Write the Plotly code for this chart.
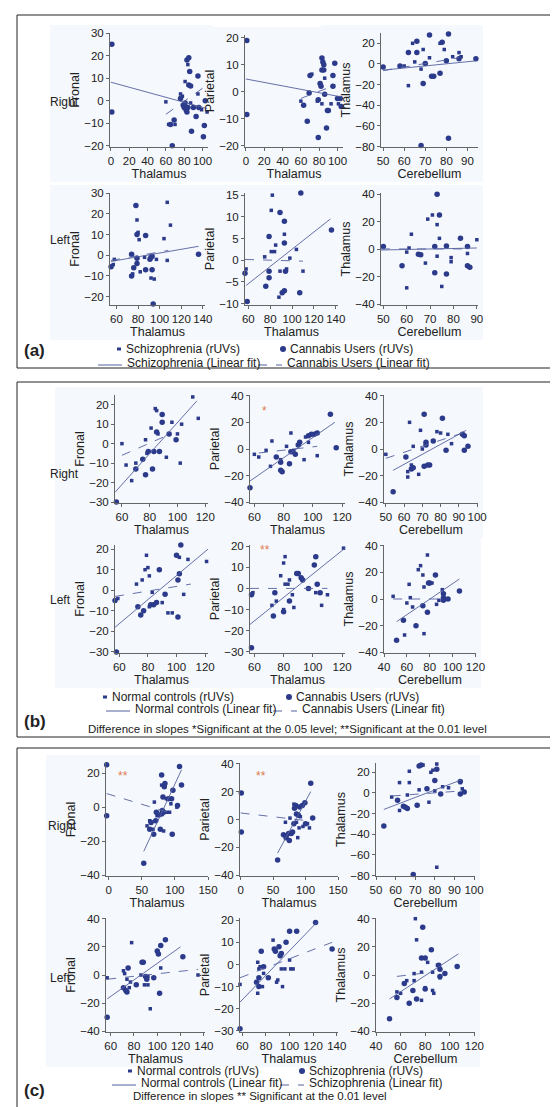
import plotly.graph_objects as go

W, H = 558, 1107
DOT = "#2b3a8a"
FIT = "#5561a0"

# ---- panel (a): Schizophrenia (squares) vs Cannabis users (circles) ----
a1_sq = [(60,-0.5),(76,3),(78,2),(81,8.5),(84,16),(63,-10.5),(70,-10.5),(87,-1),(95,3),(99,-4),(105,-5)]
a1_ci = [(1,25),(1,-5),(83,18),(85,19),(86,13),(85,7),(87,6.5),(95,11),(88,-13.5),(96,-3),(101,-16),(102,-11),(67,-20),
         (65,-10.5),(69,-8.5),(80,-3),(82,-4),(83,-5),(90,-3),(93,-7),(84,-3),(79,-2),(81,-1),(103,0),(76,1)]
a1_fit = [(0,8.2),(105,-3.5)]
a1_fit2 = [(60,-6),(100,5.5)]

a2_sq = [(60,-3.5),(72,6.5),(78,-3.5),(83,-4.5),(86,5),(93,-4.5),(101,-4.5)]
a2_ci = [(1,19),(1,-8.5),(83,12.5),(84,11),(85,10),(83,8),(85,8),(97,10.5),(70,6),(95,6),(81,3),(82,2),(69,-0.5),(79,-3),
         (63,-5),(67,-11),(89,-7),(90,-7),(88,-13.5),(79,-17),(86,-1),(100,-2.5),(103,-2.5),(104,-5.5),(95,2)]
a2_fit = [(0,4.7),(105,-2)]
a2_fit2 = [(60,-2.5),(98,2.5)]

a3_sq = [(62,-21),(64,20),(68,-5),(65,2),(69,14),(72,6),(77,20),(79,14),(83,7),(86,11),(87,7),(60,-2)]
a3_ci = [(50,-3),(58,-2),(62,11),(66,22),(66,11),(70,0.5),(73,-12),(74,-12),(77,-9),(78,21),(81,29),(72,28),(80,3),
         (86,5),(94,5),(68,-79),(81,-72),(69,-19)]
a3_fit = [(50,-6),(94,3)]
a3_fit2 = [(50,-6.5),(86,6)]

a4_sq = [(79,17),(80,11),(81,7.5),(104,8),(107,25.5),(110,14.5),(57,-4.5),(58,-2),(82,-8),(86,-1),(92,-11),(95,-11.5),
         (97,-2),(107,-2.5),(75,-9)]
a4_ci = [(78,24),(87,9.5),(79,10),(74,0.5),(92,-1),(93,-0.5),(91,-2),(93,-7),(87,-7),(79,-1.5),(76,-6),(74,-10),(136,0.5),
         (94,-23.5),(55,-5.5),(79,-4)]
a4_fit = [(55,-3),(136,4.3)]
a4_fit2 = [(55,-2.5),(108,2.3)]

a5_sq = [(81,11.5),(82,15),(81,2),(84,2),(85,3.5),(93,6),(89,-2.5),(95,-2),(98,0.5),(104,2.5),(110,-2.5),(58,-2),(75,0.8),
         (88,-8.5),(80,-10.5)]
a5_ci = [(59,-9.5),(79,5.5),(89,11),(93,9),(93,4),(108,15.5),(136,7),(79,-4),(79,-2.5),(76,-6),(96,-10.5),(91,-7.5),
         (93,-7),(107,-7.5),(94,-2.5),(57,-3)]
a5_fit = [(58,-5.8),(135,9.5)]
a5_fit2 = [(57,0.2),(110,-0.2)]

a6_sq = [(60,-28),(62,11),(61,1),(60,-2),(68,-10),(69,22),(71,25),(73,18),(74,8),(73,-5),(75,-27),(79,-6),(79,-9),(86,-3),(90,7)]
a6_ci = [(73,40),(74,25),(72,2),(72,-17),(77,-18),(83,8),(77,2.5),(86,2),(86,-12),(87,-13),(66,-4),(65,-3.5),(58,-12),(50,2)]
a6_fit = [(49,-0.5),(90,1)]
a6_fit2 = [(49,0.3),(86,0.3)]

# ---- panel (b): Normal controls (squares) vs Cannabis users (circles) ----
b1_sq = [(60,0),(63,-11),(67,-19),(70,-10),(77,2),(81,8),(84,18),(85,17),(92,-7),(96,11),(103,10),(102,-10),(100,5),
         (111,24),(115,13),(78,-5),(86,5)]
b1_ci = [(56,-30),(70,-13),(77,-16),(82,-13),(83,-4),(85,6),(89,11),(89,15),(94,5),(99,2),(87,-4),(75,-8),(79,-4)]
b1_fit = [(55,-25),(114,22)]
b1_fit2 = [(60,-6),(95,5)]

b2_sq = [(60,-4),(63,-6),(68,-1),(71,-13),(72,6),(82,2),(85,12),(87,-1),(94,-8),(95,9),(97,5),(103,-5),(78,-8)]
b2_ci = [(57,-29),(78,-16),(79,-17),(78,-10),(84,-11),(85,-2),(88,-4),(90,3),(91,5),(97,10),(99,11),(101,11),(103,12),
         (112,26),(116,1),(75,-6)]
b2_fit = [(57,-24),(115,20)]
b2_fit2 = [(63,-3),(103,2)]

b3_sq = [(50,-4),(62,-17),(62,-21),(63,20),(65,2),(69,14),(70,0),(68,-19),(78,13),(80,12),(84,11),(86,4),(64,-12)]
b3_ci = [(54,-32),(61,-6),(64,-15),(65,-14),(72,3),(72,5),(71,-13),(73,-12),(74,-12),(76,6),(81,23),(83,-1),(92,11),
         (93,-1),(95,2),(93,10),(71,26)]
b3_fit = [(54,-16),(94,14)]
b3_fit2 = [(50,-7),(92,12)]

b4_sq = [(59,-4),(72,3),(76,5),(78,10),(79,17),(80,11),(81,7),(81,-8),(83,-1),(90,-6),(94,-11),(97,-11),(102,16),(105,-2),
         (108,15),(121,14)]
b4_ci = [(58,-30),(57,-5),(73,-8),(75,-12),(77,-10),(82,-7),(84,-7),(86,-6),(88,10),(92,-2),(101,-13),(100,17),(102,8),
         (101,5),(103,22)]
b4_fit = [(57,-18),(122,20)]
b4_fit2 = [(57,-3),(110,3)]

b5_sq = [(59,-2),(72,-8),(75,-6),(78,6),(80,12),(81,15),(81,2),(83,2),(84,4),(86,-3),(87,-9),(102,-2),(106,-8),(110,-3),
         (121,19),(80,-10)]
b5_ci = [(58,-28),(58,-3),(73,-13),(74,-2),(80,-11),(84,-6),(89,7),(90,7),(92,5),(93,4),(101,11),(102,15),(103,2),(105,-2),(97,0)]
b5_fit = [(57,-17),(122,19)]
b5_fit2 = [(57,0),(110,0)]

b6_sq = [(48,2),(58,-27),(60,-3),(62,11),(63,1),(65,-6),(70,22),(72,25),(74,18),(75,9),(75,-26),(78,33),(82,12),(86,-4),
         (88,-1),(91,7)]
b6_ci = [(51,-31),(57,-16),(68,-20),(74,-5),(80,12),(79,12),(85,18),(92,4),(92,1),(92,-1),(96,0),(106,6),(78,-10)]
b6_fit = [(51,-17),(106,15)]
b6_fit2 = [(48,0),(88,0)]

# ---- panel (c): Normal controls (squares) vs Schizophrenia (circles) ----
c1_sq = [(58,-11),(62,-8),(69,3),(73,-5),(76,-5),(80,13),(82,6),(87,5),(88,-3),(92,-3),(94,2),(103,0),(83,-14),(67,-13)]
c1_ci = [(-3,25),(-3,-5),(53,-33),(62,-13),(64,-9),(68,-16),(71,-8),(72,-3),(78,-13),(80,-4),(81,-2),(83,-3),(82,6),
         (84,12),(85,14),(80,19),(90,5),(95,5),(96,-16),(97,10),(104,1),(107,24),(110,13)]
c1_fit = [(53,-26),(110,22)]
c1_fit2 = [(-3,8),(98,-4)]

c2_sq = [(69,-2),(72,-11),(76,1),(82,11),(86,-2),(88,-13),(90,-6),(96,-5),(103,-3),(106,-6),(92,2)]
c2_ci = [(1,19),(1,-9),(57,-29),(66,-11),(70,-13),(75,-15),(78,-10),(80,-9),(82,-3),(83,8),(85,10),(86,4),(89,3),(91,9),
         (95,10),(99,12),(100,-3),(108,26),(111,1),(74,-10)]
c2_fit = [(57,-24),(108,20)]
c2_fit2 = [(0,4.7),(105,-1)]

c3_sq = [(58,-4),(62,-17),(62,10),(67,21),(67,10),(72,3),(74,27),(77,-9),(78,20),(79,22),(80,2),(81,28),(81,-72),(84,6),
         (87,5),(93,10),(94,4),(66,-2)]
c3_ci = [(54,-32),(61,-7),(64,-13),(65,-14),(66,-15),(71,-12),(72,26),(73,27),(80,12),(81,23),(83,-1),(93,11),(93,-1),
         (95,1),(69,-79),(76,4)]
c3_fit = [(54,-16),(94,13)]
c3_fit2 = [(58,-3),(94,2)]

c4_sq = [(57,-2),(71,3),(72,1),(74,-3),(77,-5),(78,23),(86,0),(89,-7),(92,-7),(92,-1),(94,-24),(103,5),(135,0),(76,-9)]
c4_ci = [(57,-30),(71,-9),(73,-11),(74,-12),(75,5),(82,-7),(87,9),(88,9),(90,-1),(91,-3),(97,-2),(100,17),(101,15),
         (103,21),(102,-13),(107,25),(122,13)]
c4_fit = [(57,-17),(120,20)]
c4_fit2 = [(57,-3),(135,4)]

c5_sq = [(58,-9),(73,1),(74,-2),(75,-1),(77,-10),(78,-4),(86,11),(89,-8),(90,-7),(93,-2),(94,-10),(96,-2),(100,2),
         (101,-2),(103,-2),(73,-13)]
c5_ci = [(58,-29),(72,-8),(74,-6),(76,6),(78,-1),(82,-6),(87,7),(88,6),(91,8),(92,4),(93,5),(97,10),(100,15),(106,15),
         (122,19),(136,7),(74,-10)]
c5_fit = [(58,-17),(123,19)]
c5_fit2 = [(58,-6),(136,10)]

c6_sq = [(57,-12),(60,-13),(65,-4),(71,1),(71,-4),(72,40),(73,25),(77,2),(77,-18),(80,-9),(82,9),(86,2),(86,-11),
         (87,-13),(90,7),(92,-2)]
c6_ci = [(51,-31),(57,-16),(63,-6),(67,-20),(70,-11),(77,12),(80,12),(80,-10),(85,18),(91,7),(92,-1),(92,4),(96,1),
         (106,6),(78,34),(73,-17)]
c6_fit = [(51,-17),(107,15)]
c6_fit2 = [(57,-1),(85,2)]

# subplot spec: data, pixel box (x0,x1,y0,y1), x range, x ticks, y range, y ticks, y title, x title
subplots = [
    (a1_sq, a1_ci, a1_fit, a1_fit2, (102,200,25,139), [-1,106], list(range(0,101,20)), [-20.5,30], list(range(-20,31,10)), "Fronal", "Thalamus"),
    (a2_sq, a2_ci, a2_fit, a2_fit2, (237,335,27,139), [-1,106], list(range(0,101,20)), [-20.5,21], list(range(-20,21,10)), "Parietal", "Thalamus"),
    (a3_sq, a3_ci, a3_fit, a3_fit2, (373,470,25,139), [49,95], list(range(50,91,10)), [-80.5,30], list(range(-80,21,20)), "Thalamus", "Cerebellum"),
    (a4_sq, a4_ci, a4_fit, a4_fit2, (102,197,185,297), [54,142], list(range(60,141,20)), [-24,30], list(range(-20,31,10)), "Fronal", "Thalamus"),
    (a5_sq, a5_ci, a5_fit, a5_fit2, (237,330,185,297), [57,142], list(range(60,141,20)), [-10.3,15.5], list(range(-10,16,5)), "Parietal", "Thalamus"),
    (a6_sq, a6_ci, a6_fit, a6_fit2, (373,470,185,297), [49,90.5], list(range(50,91,10)), [-40.5,41], list(range(-40,41,20)), "Thalamus", "Cerebellum"),
    (b1_sq, b1_ci, b1_fit, b1_fit2, (107,200,387,495), [55,122], list(range(60,121,20)), [-30.5,25], list(range(-30,21,10)), "Fronal", "Thalamus"),
    (b2_sq, b2_ci, b2_fit, b2_fit2, (242,337,387,495), [57,122], list(range(60,121,20)), [-40.5,40.5], list(range(-40,41,20)), "Parietal", "Thalamus"),
    (b3_sq, b3_ci, b3_fit, b3_fit2, (376,470,387,495), [49,100.5], list(range(50,101,10)), [-40.5,40.5], list(range(-40,41,20)), "Thalamus", "Cerebellum"),
    (b4_sq, b4_ci, b4_fit, b4_fit2, (107,200,537,645), [57,122], list(range(60,121,20)), [-30.5,22], list(range(-30,21,10)), "Fronal", "Thalamus"),
    (b5_sq, b5_ci, b5_fit, b5_fit2, (242,337,537,645), [57,122], list(range(60,121,20)), [-30.5,20.5], list(range(-30,21,10)), "Parietal", "Thalamus"),
    (b6_sq, b6_ci, b6_fit, b6_fit2, (376,468,537,645), [40,120.5], list(range(40,121,20)), [-40.5,40.5], list(range(-40,41,20)), "Thalamus", "Cerebellum"),
    (c1_sq, c1_ci, c1_fit, c1_fit2, (98,200,755,868), [-4,150], [0,50,100,150], [-40.5,26], [-40,-20,0,20], "Fronal", "Thalamus"),
    (c2_sq, c2_ci, c2_fit, c2_fit2, (232,330,755,868), [-1,150], [0,50,100,150], [-40.5,40.5], list(range(-40,41,20)), "Parietal", "Thalamus"),
    (c3_sq, c3_ci, c3_fit, c3_fit2, (368,467,755,868), [50,100.5], list(range(50,101,10)), [-80.5,29], list(range(-80,21,20)), "Thalamus", "Cerebellum"),
    (c4_sq, c4_ci, c4_fit, c4_fit2, (98,197,910,1024), [56,141], list(range(60,141,20)), [-40.5,40.5], list(range(-40,41,20)), "Fronal", "Thalamus"),
    (c5_sq, c5_ci, c5_fit, c5_fit2, (232,330,910,1024), [58,141], list(range(60,141,20)), [-30.5,21], list(range(-30,21,10)), "Parietal", "Thalamus"),
    (c6_sq, c6_ci, c6_fit, c6_fit2, (368,467,910,1024), [40,120.5], list(range(40,121,20)), [-40.5,40.5], list(range(-40,41,20)), "Thalamus", "Cerebellum"),
]

fig = go.Figure()
layout = {}
ann = []
shapes = []
FONT = "Liberation Sans, Arial, sans-serif"

def px_x(v):
    return v / W

def px_y(v):
    return 1 - v / H

for i, (sq, ci, fit, fit2, box, xr, xt, yr, yt, ytitle, xtitle) in enumerate(subplots):
    n = i + 1
    xa, ya = f"x{n}", f"y{n}"
    x0, x1, y0, y1 = box
    fig.add_trace(go.Scatter(x=[p[0] for p in sq], y=[p[1] for p in sq], mode="markers", xaxis=xa, yaxis=ya,
                             marker=dict(symbol="square", size=3.5, color=DOT), showlegend=False, cliponaxis=False))
    fig.add_trace(go.Scatter(x=[p[0] for p in ci], y=[p[1] for p in ci], mode="markers", xaxis=xa, yaxis=ya,
                             marker=dict(symbol="circle", size=5.5, color=DOT), showlegend=False, cliponaxis=False))
    fig.add_trace(go.Scatter(x=[p[0] for p in fit], y=[p[1] for p in fit], mode="lines", xaxis=xa, yaxis=ya,
                             line=dict(color=FIT, width=0.9), showlegend=False))
    fig.add_trace(go.Scatter(x=[p[0] for p in fit2], y=[p[1] for p in fit2], mode="lines", xaxis=xa, yaxis=ya,
                             line=dict(color=FIT, width=0.9, dash="dash"), showlegend=False))
    axis_common = dict(showgrid=False, zeroline=False, showline=True, linecolor="#666", linewidth=1, automargin=False,
                       ticks="outside", ticklen=3, tickcolor="#666", tickfont=dict(size=11.5, color="#222", family=FONT),
                       title_font=dict(size=12.5, color="#222", family=FONT))
    layout[f"xaxis{n}"] = dict(axis_common, domain=[px_x(x0), px_x(x1)], range=xr, tickvals=xt, anchor=ya,
                               title=dict(text=xtitle, standoff=1))
    layout[f"yaxis{n}"] = dict(axis_common, domain=[px_y(y1), px_y(y0)], range=yr, tickvals=yt, anchor=xa,
                               title=dict(text=ytitle, standoff=1))
    # faint light backdrop behind each plot
    shapes.append(dict(type="rect", xref="paper", yref="paper", x0=px_x(x0 - 60), x1=px_x(x1 + 5),
                       y0=px_y(y1 + 35), y1=px_y(y0 - 8), fillcolor="#f5f8fc", line=dict(width=0), layer="below"))

# panel frames
for top, bot in [(7, 360), (374, 729), (740, 1100)]:
    shapes.append(dict(type="rect", xref="paper", yref="paper", x0=px_x(9), x1=px_x(548),
                       y0=px_y(bot), y1=px_y(top), line=dict(color="#222", width=1)))

def text(x, y, s, size=11, color="#222", xanchor="left", bold=False):
    ann.append(dict(x=px_x(x), y=px_y(y), xref="paper", yref="paper", text=f"<b>{s}</b>" if bold else s,
                    showarrow=False, xanchor=xanchor, yanchor="middle", font=dict(size=size, color=color, family=FONT)))

text(40, 94, "Right", size=12); text(40, 232, "Left", size=12)
text(40, 466, "Right", size=12); text(40, 592, "Left", size=12)
text(38, 818, "Right", size=12); text(40, 970, "Left", size=12)

text(14, 342, "(a)", size=17, bold=True)
text(14, 713, "(b)", size=17, bold=True)
text(14, 1082, "(c)", size=17, bold=True)

# significance stars
text(256, 403, "*", size=12, color="#e07a50", xanchor="center")
text(257, 542, "**", size=12, color="#e07a50", xanchor="center")
text(115, 768, "**", size=12, color="#e07a50", xanchor="center")
text(253, 768, "**", size=12, color="#e07a50", xanchor="center")

def legend(y1, y2, lab1, lab2, mx, lx):
    # rows: markers, fits
    shapes.append(dict(type="rect", xref="paper", yref="paper", x0=px_x(mx[0] - 2), x1=px_x(mx[0] + 2),
                       y0=px_y(y1 + 1.5), y1=px_y(y1 - 1.5), fillcolor=DOT, line=dict(width=0)))
    shapes.append(dict(type="circle", xref="paper", yref="paper", x0=px_x(mx[1] - 3), x1=px_x(mx[1] + 3),
                       y0=px_y(y1 + 3), y1=px_y(y1 - 3), fillcolor=DOT, line=dict(width=0)))
    shapes.append(dict(type="line", xref="paper", yref="paper", x0=px_x(lx[0]), x1=px_x(lx[0] + 24),
                       y0=px_y(y2 + 2), y1=px_y(y2 + 2), line=dict(color=FIT, width=1)))
    shapes.append(dict(type="line", xref="paper", yref="paper", x0=px_x(lx[1]), x1=px_x(lx[1] + 24),
                       y0=px_y(y2 + 2), y1=px_y(y2 + 2), line=dict(color=FIT, width=1, dash="dash")))
    text(mx[0] + 5, y1, f"{lab1} (rUVs)", size=12)
    text(mx[1] + 5, y1, f"{lab2} (rUVs)", size=12)
    text(lx[0] + 27, y2, f"{lab1} (Linear fit)", size=12)
    text(lx[1] + 27, y2, f"{lab2} (Linear fit)", size=12)

legend(341, 355, "Schizophrenia", "Cannabis Users", (111, 275), (90, 250))
legend(689, 701, "Normal controls", "Cannabis Users", (97, 281), (98, 265))
text(279, 721, "Difference in slopes *Significant at the 0.05 level; **Significant at the 0.01 level", size=11.5, xanchor="center")
legend(1063, 1075, "Normal controls", "Schizophrenia", (122, 294), (104, 272))
text(252, 1088, "Difference in slopes ** Significant at the 0.01 level", size=11.5, xanchor="center")

fig.update_layout(**layout)
fig.update_layout(width=W, height=H, margin=dict(l=0, r=0, t=0, b=0), paper_bgcolor="white", plot_bgcolor="white",
                  showlegend=False, annotations=ann, shapes=shapes, font=dict(family=FONT))
fig.write_html("out.html")
